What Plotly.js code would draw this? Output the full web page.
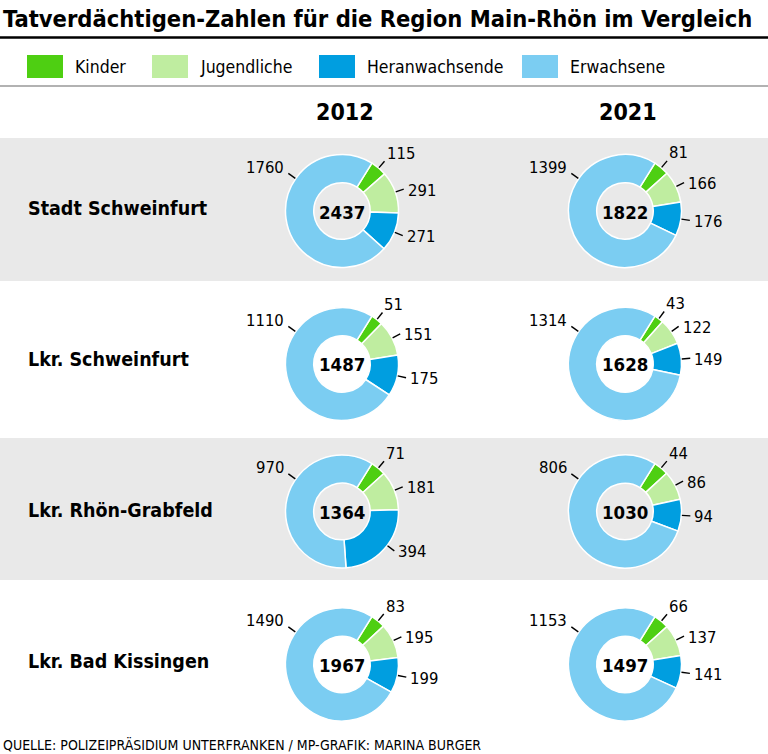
<!DOCTYPE html>
<html>
<head>
<meta charset="utf-8">
<script src="https://cdn.plot.ly/plotly-3.0.1.min.js"></script>
<style>html,body{margin:0;padding:0;background:#fff;}#chart{width:768px;height:754px;}</style>
</head>
<body>
<div id="chart"></div>
<script>
// ---- data ----
const titleText = 'Tatverdächtigen-Zahlen für die Region Main-Rhön im Vergleich';
const sourceText = 'QUELLE: POLIZEIPRÄSIDIUM UNTERFRANKEN / MP-GRAFIK: MARINA BURGER';
const categories = ['Kinder', 'Jugendliche', 'Heranwachsende', 'Erwachsene'];
const regions = ['Stadt Schweinfurt', 'Lkr. Schweinfurt', 'Lkr. Rhön-Grabfeld', 'Lkr. Bad Kissingen'];
const years = ['2012', '2021'];

const kinder2012 = [115, 51, 71, 83];
const jugendliche2012 = [291, 151, 181, 195];
const heranwachsende2012 = [271, 175, 394, 199];
const erwachsene2012 = [1760, 1110, 970, 1490];
const totals2012 = [2437, 1487, 1364, 1967];

const kinder2021 = [81, 43, 44, 66];
const jugendliche2021 = [166, 122, 86, 137];
const heranwachsende2021 = [176, 149, 94, 141];
const erwachsene2021 = [1399, 1314, 806, 1153];
const totals2021 = [1822, 1628, 1030, 1497];

// ---- styles / layout geometry ----
const W = 768, H = 754;
const colors = ['#4ecf12', '#bfeda0', '#009ee0', '#7bcdf2'];
const FONT = "'DejaVu Sans Condensed', 'Liberation Sans Narrow', sans-serif";
const colX = [342, 625];
const rowY = [211, 364, 511.5, 664.5];
const R = 56.5;
const ROT = 32;
const px = x => x / W;
const py = y => 1 - y / H;

const series = {
  '2012': [kinder2012, jugendliche2012, heranwachsende2012, erwachsene2012, totals2012],
  '2021': [kinder2021, jugendliche2021, heranwachsende2021, erwachsene2021, totals2021]
};

const data = [];
const shapes = [];
const annotations = [];

// background bands
[[138, 281], [438, 580]].forEach(b => {
  shapes.push({type: 'rect', xref: 'paper', yref: 'paper', x0: 0, x1: 1, y0: py(b[1]), y1: py(b[0]),
    fillcolor: '#e9e9e9', line: {width: 0}, layer: 'below'});
});
// rules
shapes.push({type: 'line', xref: 'paper', yref: 'paper', x0: 0, x1: 1, y0: py(37.5), y1: py(37.5), line: {color: '#000', width: 2.5}});
shapes.push({type: 'line', xref: 'paper', yref: 'paper', x0: 0, x1: 1, y0: py(86), y1: py(86), line: {color: '#999', width: 1.5}});

// title + source
annotations.push({xref: 'paper', yref: 'paper', x: px(1), y: py(19), xanchor: 'left', yanchor: 'middle', showarrow: false,
  text: '<b>' + titleText + '</b>', font: {family: FONT, size: 23.5, color: '#000'}});
annotations.push({xref: 'paper', yref: 'paper', x: px(1), y: py(744), xanchor: 'left', yanchor: 'middle', showarrow: false,
  text: sourceText, font: {family: FONT, size: 14, color: '#000'}});

// legend
const legSq = [27, 152, 319, 522];
categories.forEach((c, i) => {
  shapes.push({type: 'rect', xref: 'paper', yref: 'paper', x0: px(legSq[i]), x1: px(legSq[i] + 36), y0: py(78), y1: py(55),
    fillcolor: colors[i], line: {width: 0}});
  annotations.push({xref: 'paper', yref: 'paper', x: px(legSq[i] + 46), y: py(67), xanchor: 'left', yanchor: 'middle', showarrow: false,
    text: c, font: {family: FONT, size: 17.5, color: '#000'}});
});

// year headers
years.forEach((yr, j) => {
  annotations.push({xref: 'paper', yref: 'paper', x: px(colX[j] + 3), y: py(112), xanchor: 'center', yanchor: 'middle', showarrow: false,
    text: '<b>' + yr + '</b>', font: {family: FONT, size: 23, color: '#000'}});
});

// region labels
const rowLabelY = [209, 359, 510, 661];
regions.forEach((r, i) => {
  annotations.push({xref: 'paper', yref: 'paper', x: px(26), y: py(rowLabelY[i]), xanchor: 'left', yanchor: 'middle', showarrow: false,
    text: '<b>' + r + '</b>', font: {family: FONT, size: 19.5, color: '#000'}});
});

// donuts
years.forEach((yr, j) => {
  const s = series[yr];
  regions.forEach((reg, i) => {
    const vals = [s[0][i], s[1][i], s[2][i], s[3][i]];
    const cx = colX[j], cy = rowY[i];
    data.push({
      type: 'pie', values: vals, labels: categories, sort: false, direction: 'clockwise', rotation: ROT,
      hole: 0.5, textinfo: 'none', hoverinfo: 'none', showlegend: false,
      marker: {colors: colors, line: {color: '#fff', width: 1.5}},
      domain: {x: [px(cx - R), px(cx + R)], y: [py(cy + R), py(cy - R)]}
    });
    // centre total
    annotations.push({xref: 'paper', yref: 'paper', x: px(cx), y: py(cy + 1), xanchor: 'center', yanchor: 'middle', showarrow: false,
      text: '<b>' + s[4][i] + '</b>', font: {family: FONT, size: 18.5, color: '#000'}});
    // value labels with leader ticks
    const sum = vals.reduce((a, b) => a + b, 0);
    let cum = 0;
    vals.forEach((v, k) => {
      let ang;
      if (k < 3) {
        ang = ROT + (cum + v / 2) * 360 / sum;
        ang = Math.min(Math.max(ang, 36), 127);
      } else {
        ang = 305;
      }
      cum += v;
      const t = ang * Math.PI / 180;
      const r1 = R + 0.5, r2 = R + 9;
      const hx = cx + r1 * Math.sin(t), hy = cy - r1 * Math.cos(t);
      const tx = cx + r2 * Math.sin(t), ty = cy - r2 * Math.cos(t);
      shapes.push({type: 'line', xref: 'paper', yref: 'paper', x0: px(hx), y0: py(hy), x1: px(tx), y1: py(ty),
        line: {color: '#000', width: 1.4}});
      let ann;
      if (k === 3) {
        ann = {x: px(tx - 2), y: py(ty - 6), xanchor: 'right'};
      } else if (k === 0) {
        ann = {x: px(tx + 0), y: py(ty - 8), xanchor: 'left'};
      } else {
        ann = {x: px(tx + 2), y: py(ty + 1), xanchor: 'left'};
      }
      annotations.push(Object.assign(ann, {xref: 'paper', yref: 'paper', yanchor: 'middle', showarrow: false,
        text: String(v), font: {family: FONT, size: 16.5, color: '#000'}}));
    });
  });
});

const layout = {
  width: W, height: H, margin: {l: 0, r: 0, t: 0, b: 0},
  paper_bgcolor: '#fff', plot_bgcolor: '#fff',
  showlegend: false, shapes: shapes, annotations: annotations
};
Plotly.newPlot('chart', data, layout, {displayModeBar: false, staticPlot: true});
</script>
</body>
</html>
